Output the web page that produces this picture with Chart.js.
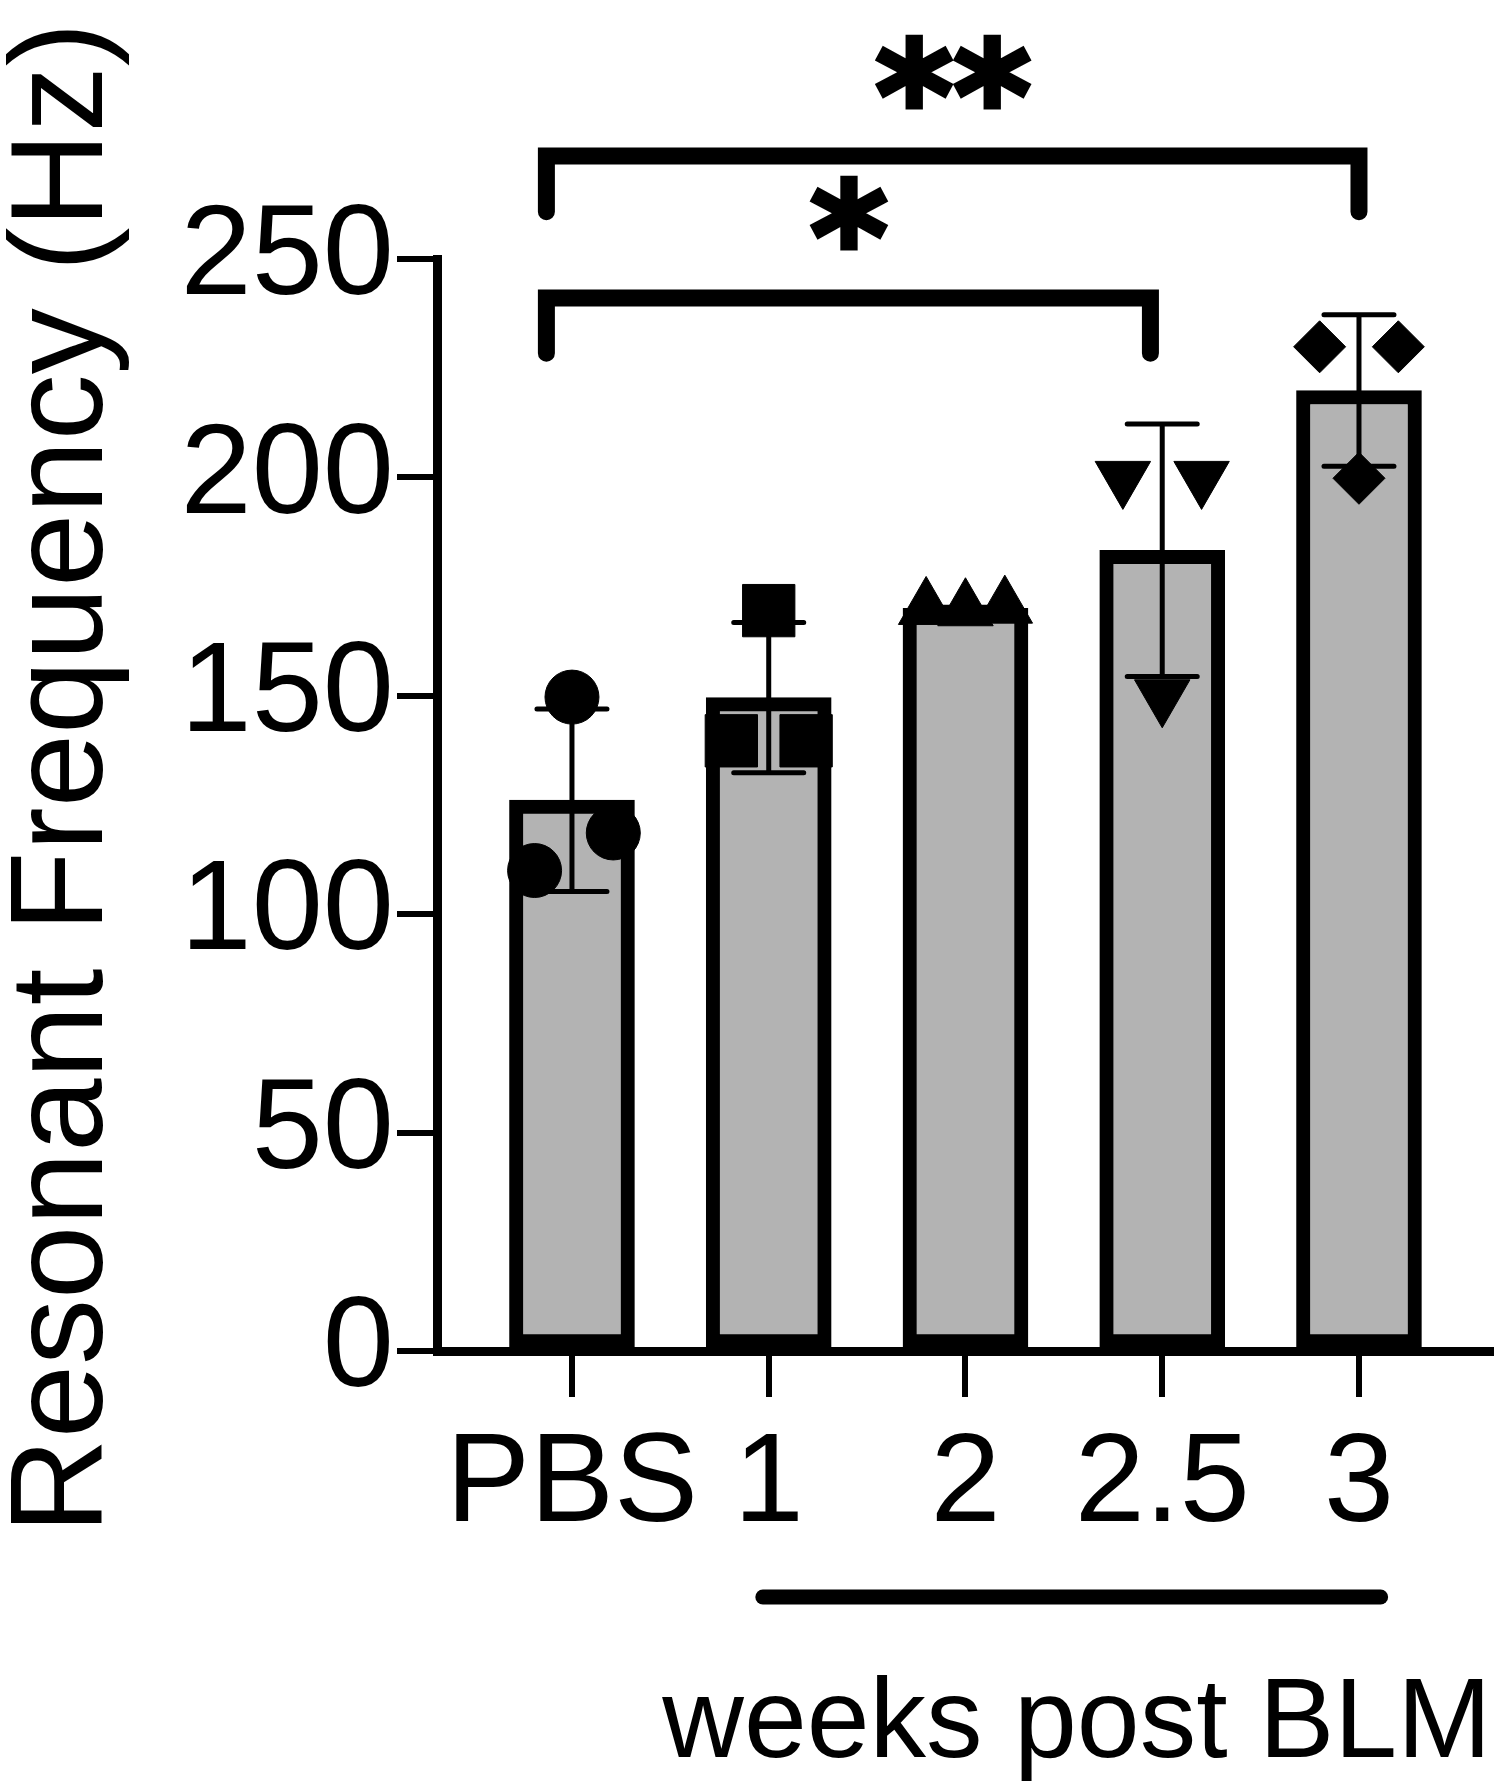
<!DOCTYPE html>
<html>
<head>
<meta charset="utf-8">
<script src="https://cdn.jsdelivr.net/npm/chart.js@4.4.0/dist/chart.umd.min.js"></script>
<style>
  html, body { margin: 0; padding: 0; background: #ffffff; }
  #wrap { width: 1507px; height: 1788px; }
</style>
</head>
<body>
<div id="wrap"><canvas id="c" width="1507" height="1788"></canvas></div>
<script>
// ---------- data ----------
const categories = ['PBS', '1', '2', '2.5', '3'];
const yTicks = [0, 50, 100, 150, 200, 250];
const barMeans = [126.1, 149.6, 170.0, 183.3, 219.9];
const barSD = [20.9, 17.2, 0.3, 28.9, 17.35];
const pointsPBS = [149.7, 118.6, 110.0];
const pointsWeek1 = [169.5, 139.7, 139.7];
const pointsWeek2 = [170.0, 169.7, 170.3];
const pointsWeek25 = [200.0, 200.0, 150.0];
const pointsWeek3 = [229.9, 229.9, 199.8];
const sigLabels = ['**', '*'];
const yTitle = 'Resonant Frequency (Hz)';
const groupTitle = 'weeks post BLM';

// ---------- layout / style (not data) ----------
const FONT = "'Liberation Sans', Arial, Helvetica, sans-serif";
const STAR_FONT = "'DejaVu Sans', 'Liberation Sans', sans-serif";
const jitter = [[0, 0.21, -0.19], [0, -0.19, 0.19], [-0.2, 0, 0.2], [-0.2, 0.2, 0], [-0.2, 0.2, 0]];
const markers = [
  { style: 'circle', r: 27, rot: 0 },
  { style: 'rect', r: 37, rot: 0 },
  { style: 'triangle', r: 32, rot: 0 },
  { style: 'triangle', r: 32, rot: 180 },
  { style: 'rectRot', r: 26, rot: 0 }
];
// bracket geometry in axis units
const brackets = [
  { x1: -0.13, x2: 4.0, y: 273.6, legEnd: 260.8, labelY: 292.7 },
  { x1: -0.13, x2: 2.94, y: 241.1, legEnd: 228.4, labelY: 260.6 }
];

const groups = [pointsPBS, pointsWeek1, pointsWeek2, pointsWeek25, pointsWeek3];

const barDataset = {
  type: 'bar',
  data: barMeans.map((v, i) => ({ x: i, y: v })),
  backgroundColor: '#b3b3b3',
  borderColor: '#000000',
  borderWidth: 14,
  borderSkipped: false,
  barThickness: 125,
  order: 2
};

const pointDatasets = groups.map((vals, g) => ({
  type: 'scatter',
  data: vals.map((v, k) => ({ x: g + jitter[g][k], y: v })),
  pointStyle: markers[g].style,
  pointRadius: markers[g].r,
  pointHoverRadius: markers[g].r,
  pointRotation: markers[g].rot,
  pointBackgroundColor: '#000000',
  pointBorderColor: '#000000',
  pointBorderWidth: 1,
  showLine: false,
  order: 1
}));

function drawStarText(ctx, text, cx, cy, targetH) {
  ctx.save();
  ctx.font = 'bold 100px ' + STAR_FONT;
  let m = ctx.measureText('*');
  const h100 = m.actualBoundingBoxAscent + m.actualBoundingBoxDescent;
  const size = 100 * (targetH - 5) / h100;
  ctx.font = 'bold ' + size + 'px ' + STAR_FONT;
  ctx.textAlign = 'left';
  ctx.textBaseline = 'alphabetic';
  m = ctx.measureText(text);
  const w = m.actualBoundingBoxLeft + m.actualBoundingBoxRight;
  const x0 = cx - w / 2 + m.actualBoundingBoxLeft;
  const yb = cy + (m.actualBoundingBoxAscent - m.actualBoundingBoxDescent) / 2;
  ctx.fillStyle = '#000';
  ctx.strokeStyle = '#000';
  ctx.lineWidth = 5;
  ctx.lineJoin = 'miter';
  ctx.fillText(text, x0, yb);
  ctx.strokeText(text, x0, yb);
  ctx.restore();
}

const overlay = {
  id: 'overlay',
  afterDatasetsDraw(chart) {
    const { ctx, scales: { x, y } } = chart;
    ctx.save();
    ctx.strokeStyle = '#000';
    ctx.lineWidth = 5;
    ctx.lineCap = 'round';
    barMeans.forEach((m, i) => {
      const px = x.getPixelForValue(i);
      const top = y.getPixelForValue(m + barSD[i]);
      const bot = y.getPixelForValue(m - barSD[i]);
      ctx.beginPath();
      ctx.moveTo(px, top); ctx.lineTo(px, bot);
      ctx.moveTo(px - 35, top); ctx.lineTo(px + 35, top);
      ctx.moveTo(px - 35, bot); ctx.lineTo(px + 35, bot);
      ctx.stroke();
    });
    ctx.restore();
  },
  afterDraw(chart) {
    const { ctx, scales: { x, y }, chartArea } = chart;
    ctx.save();
    // y-axis title
    ctx.fillStyle = '#000';
    ctx.font = '132px ' + FONT;
    ctx.textAlign = 'center';
    ctx.textBaseline = 'middle';
    ctx.save();
    ctx.translate(66, (chartArea.top + chartArea.bottom) / 2 - 27);
    ctx.rotate(-Math.PI / 2);
    ctx.fillText(yTitle, 0, 0);
    ctx.restore();
    // significance brackets
    ctx.strokeStyle = '#000';
    ctx.lineWidth = 17;
    ctx.lineJoin = 'miter';
    ctx.lineCap = 'round';
    brackets.forEach((b, i) => {
      const x1 = x.getPixelForValue(b.x1), x2 = x.getPixelForValue(b.x2);
      const yy = y.getPixelForValue(b.y), ye = y.getPixelForValue(b.legEnd);
      ctx.beginPath();
      ctx.moveTo(x1, ye); ctx.lineTo(x1, yy); ctx.lineTo(x2, yy); ctx.lineTo(x2, ye);
      ctx.stroke();
      drawStarText(ctx, sigLabels[i], (x1 + x2) / 2, y.getPixelForValue(b.labelY), 75);
    });
    // group underline
    ctx.lineWidth = 15;
    ctx.lineCap = 'round';
    const uy = chartArea.bottom + 246;
    ctx.beginPath();
    ctx.moveTo(x.getPixelForValue(0.97), uy);
    ctx.lineTo(x.getPixelForValue(4.11), uy);
    ctx.stroke();
    // group label
    ctx.fillStyle = '#000';
    ctx.font = '113px ' + FONT;
    ctx.textAlign = 'center';
    ctx.textBaseline = 'alphabetic';
    ctx.fillText(groupTitle, x.getPixelForValue(2.566), chartArea.bottom + 406);
    ctx.restore();
  }
};

new Chart(document.getElementById('c'), {
  type: 'bar',
  data: { datasets: [barDataset, ...pointDatasets] },
  options: {
    responsive: false,
    animation: false,
    events: [],
    layout: { autoPadding: false, padding: { top: 259, right: 16, left: 0, bottom: 0 } },
    plugins: { legend: { display: false }, tooltip: { enabled: false } },
    scales: {
      x: {
        type: 'linear',
        min: -0.686,
        max: 4.671,
        offset: false,
        afterBuildTicks: s => { s.ticks = categories.map((_, i) => ({ value: i })); },
        afterFit: s => { s.height = 437; },
        grid: {
          display: true, drawOnChartArea: false, drawTicks: true, offset: false,
          tickLength: 46, tickWidth: 6, tickColor: '#000', color: '#000', lineWidth: 6
        },
        border: { display: true, color: '#000', width: 9 },
        ticks: {
          autoSkip: false, maxRotation: 0, minRotation: 0, padding: 14, color: '#000',
          font: { family: FONT, size: 126 },
          callback: v => categories[Math.round(v)] ?? ''
        }
      },
      y: {
        type: 'linear',
        min: 0,
        max: 250,
        afterBuildTicks: s => { s.ticks = yTicks.map(v => ({ value: v })); },
        afterFit: s => { s.width = 437; },
        grid: {
          display: true, drawOnChartArea: false, drawTicks: true,
          tickLength: 40, tickWidth: 6, tickColor: '#000', color: '#000', lineWidth: 6
        },
        border: { display: true, color: '#000', width: 9 },
        ticks: {
          padding: 3, color: '#000',
          font: { family: FONT, size: 128 }
        },
        title: { display: false, text: yTitle }
      }
    }
  },
  plugins: [overlay]
});
</script>
</body>
</html>
